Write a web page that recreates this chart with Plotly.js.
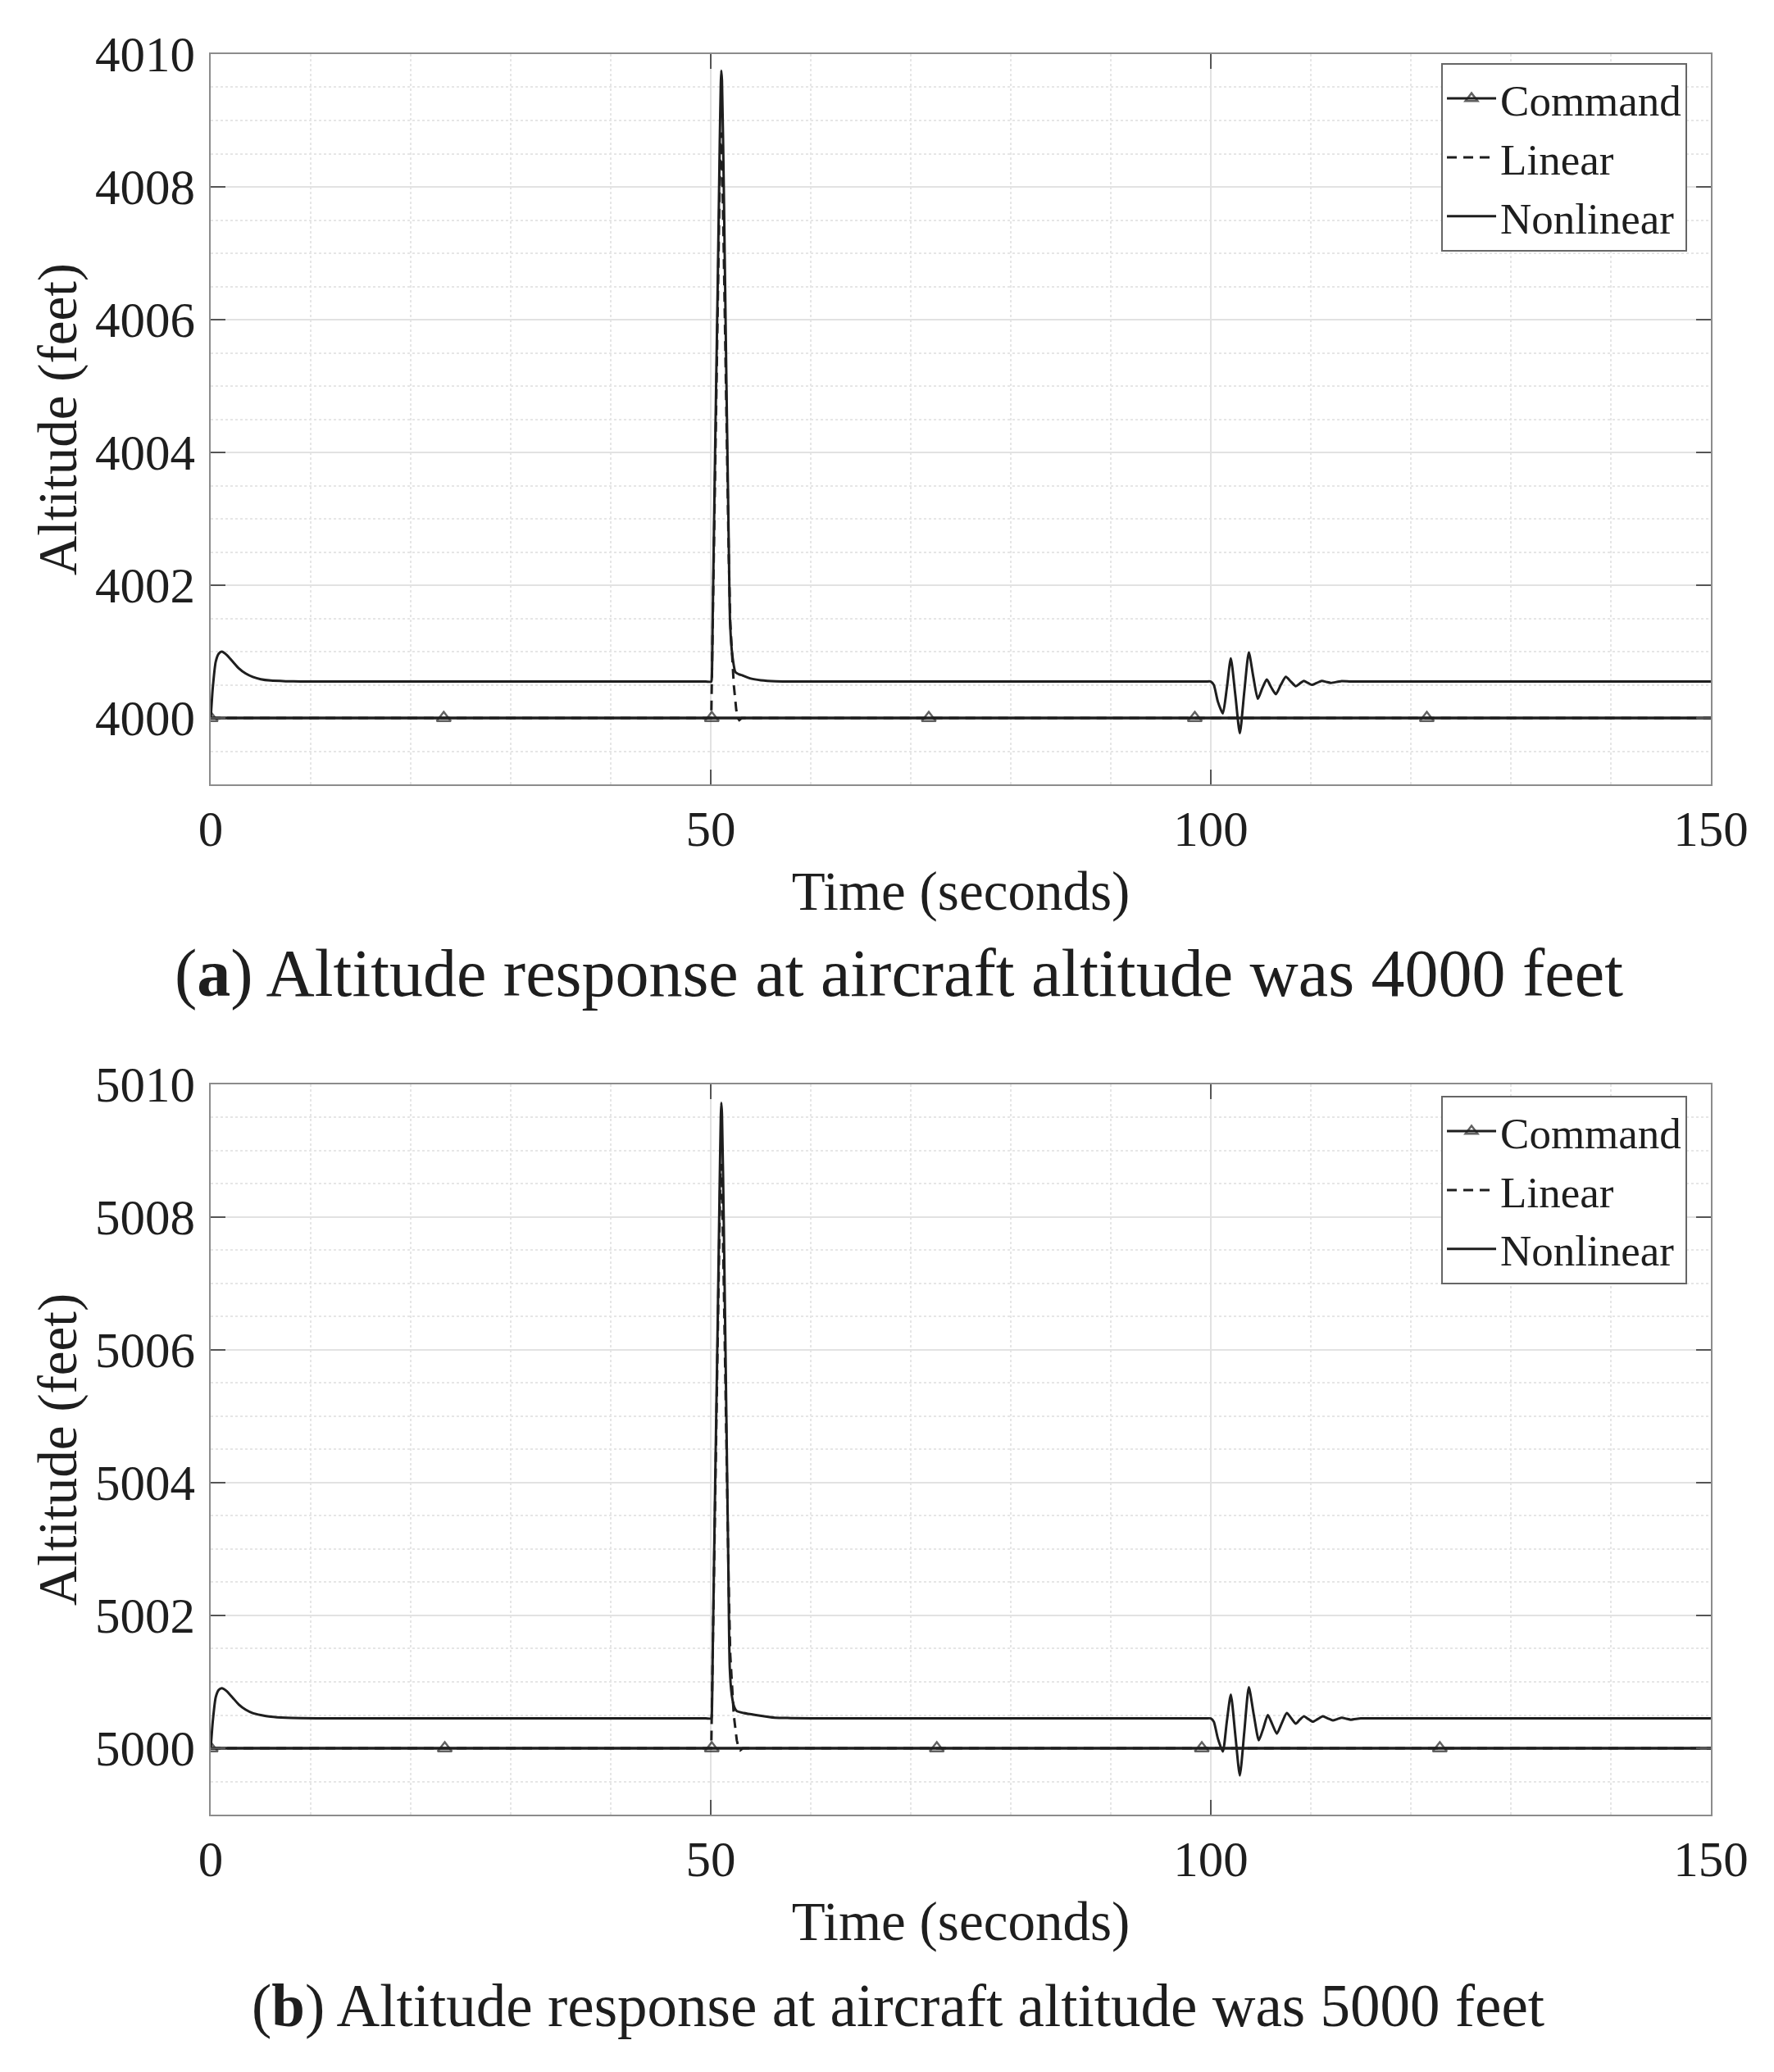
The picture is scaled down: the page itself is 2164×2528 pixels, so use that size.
<!DOCTYPE html>
<html>
<head>
<meta charset="utf-8">
<script src="https://cdn.plot.ly/plotly-3.0.1.min.js"></script>
<style>
  body { margin: 0; background: #fff; }
  #graph { width: 2164px; height: 2528px; }
</style>
</head>
<body>
<div id="graph"></div>
<script>
// command markers (seconds); the last point only closes the line at 150 s
var cmdTimeA = [0, 23.3, 50.1, 71.8, 98.4, 121.6, 150];
var cmdTimeB = [0, 23.4, 50.1, 72.6, 99.1, 122.9, 150];
var cmdMarkSize = [15, 15, 15, 15, 15, 15, 0];
var cmdSpan = [0, 150];

// (a) 4000 ft case, values are feet above 4000
var linTimeA = [0, 50.05, 50.12, 50.3, 50.55, 50.8, 50.95, 51.02, 51.1, 51.3, 51.55, 51.8, 51.95, 52.3, 52.55, 52.7, 52.85, 53.1, 150];
var linAltA  = [0, 0, 0.7, 2.4, 5.0, 7.6, 8.6, 8.82, 8.6, 7.0, 4.6, 2.4, 1.44, 0.5, 0.12, 0, -0.03, 0, 0];

var nlTimeA = [0, 0.2, 0.5, 0.8, 1.1, 1.6, 2.2, 2.8, 3.5, 4.2, 5.0, 6.0, 7.5, 9.0, 12, 20, 30, 40, 48, 49.5,
  50.05, 50.1, 50.2, 50.45, 50.7, 50.9, 51.0, 51.05, 51.12, 51.3, 51.55, 51.8, 51.93, 52.15, 52.47, 52.8, 53.2, 54.0, 55.0, 56.5, 60,
  70, 80, 90, 98, 99.5,
  100.0, 100.3, 100.7, 101.2, 101.6, 102.0, 102.45, 102.9, 103.35, 103.8, 104.25, 104.7, 105.15, 105.6, 106.05, 106.5,
  107.0, 107.5, 108.0, 108.5, 108.9, 109.3, 109.7, 110.1, 110.6, 111.1, 111.55, 112.0, 113, 114, 116, 120, 130, 140, 148, 150];
var nlAltA = [0, 0.45, 0.85, 0.97, 1.0, 0.95, 0.85, 0.75, 0.67, 0.62, 0.585, 0.565, 0.555, 0.55, 0.55, 0.55, 0.55, 0.55, 0.55, 0.55,
  0.55, 0.6, 1.6, 4.2, 6.6, 8.7, 9.55, 9.75, 9.6, 8.0, 5.2, 2.6, 1.44, 0.95, 0.69, 0.66, 0.64, 0.595, 0.57, 0.555, 0.55,
  0.55, 0.55, 0.55, 0.55, 0.55,
  0.55, 0.5, 0.25, 0.07, 0.45, 0.9, 0.35, -0.23, 0.4, 0.99, 0.62, 0.29, 0.45, 0.58, 0.46, 0.36,
  0.5, 0.62, 0.55, 0.48, 0.52, 0.56, 0.53, 0.5, 0.53, 0.56, 0.545, 0.53, 0.555, 0.55, 0.55, 0.55, 0.55, 0.55, 0.55, 0.55];

// (b) 5000 ft case, values are feet above 5000
var linTimeB = [0, 50.05, 50.12, 50.3, 50.55, 50.8, 50.95, 51.02, 51.1, 51.3, 51.55, 51.8, 51.95, 52.3, 52.6, 52.8, 52.95, 53.2, 150];
var linAltB  = [0, 0, 0.7, 2.4, 5.0, 7.6, 8.6, 8.8, 8.6, 7.0, 4.6, 2.4, 1.4, 0.5, 0.12, 0, -0.03, 0, 0];

var nlTimeB = [0, 0.2, 0.5, 0.8, 1.1, 1.6, 2.2, 2.8, 3.5, 4.2, 5.0, 6.0, 7.5, 9.0, 12, 20, 30, 40, 48, 49.5,
  50.05, 50.1, 50.2, 50.45, 50.7, 50.9, 51.0, 51.05, 51.12, 51.3, 51.55, 51.75, 51.9, 52.1, 52.35, 52.6, 53.3, 54.5, 56.4, 58, 62,
  70, 80, 90, 98, 99.5,
  100.0, 100.3, 100.7, 101.2, 101.6, 102.0, 102.45, 102.9, 103.35, 103.8, 104.3, 104.8, 105.25, 105.7, 106.15, 106.6,
  107.1, 107.6, 108.05, 108.5, 108.9, 109.3, 109.75, 110.2, 110.7, 111.2, 111.7, 112.2, 112.65, 113.1, 113.55, 114.0, 115,
  117, 120, 130, 140, 148, 150];
var nlAltB = [0, 0.4, 0.77, 0.88, 0.905, 0.86, 0.76, 0.66, 0.58, 0.53, 0.5, 0.475, 0.46, 0.455, 0.45, 0.45, 0.45, 0.45, 0.45, 0.45,
  0.45, 0.5, 1.5, 4.1, 6.5, 8.6, 9.5, 9.72, 9.55, 7.9, 5.1, 2.8, 1.2, 0.8, 0.62, 0.56, 0.53, 0.5, 0.46, 0.455, 0.45,
  0.45, 0.45, 0.45, 0.45, 0.45,
  0.45, 0.4, 0.15, -0.05, 0.4, 0.81, 0.2, -0.41, 0.25, 0.92, 0.5, 0.12, 0.3, 0.5, 0.36, 0.22,
  0.38, 0.53, 0.45, 0.37, 0.43, 0.48, 0.44, 0.4, 0.44, 0.48, 0.45, 0.42, 0.44, 0.46, 0.445, 0.43, 0.45,
  0.45, 0.45, 0.45, 0.45, 0.45, 0.45];

var serif = "'Liberation Serif', 'Times New Roman', serif";
var ink = '#1e1e1e';

function shift(arr, base) {
  return arr.map(function (v) { return base + v; });
}
function flat(arr, base) {
  return arr.map(function () { return base; });
}

// linear drawn first so the command line sits over its flat part
function panelTraces(base, cmdTime, linTime, linAlt, nlTime, nlAlt, xa, ya, leg) {
  return [
    {x: linTime, y: shift(linAlt, base), xaxis: xa, yaxis: ya, mode: 'lines', name: 'Linear',
     legend: leg, legendrank: 2, line: {color: ink, width: 3, dash: '12px,8px'}},
    {x: cmdSpan, y: flat(cmdSpan, base), xaxis: xa, yaxis: ya, mode: 'lines',
     line: {color: ink, width: 3}, showlegend: false, hoverinfo: 'skip'},
    {x: cmdTime, y: flat(cmdTime, base), xaxis: xa, yaxis: ya, mode: 'lines+markers', name: 'Command',
     legend: leg, legendrank: 1, line: {color: ink, width: 3},
     marker: {symbol: 'triangle-up-open', size: cmdMarkSize, color: ink, line: {width: 2.5, color: ink}}},
    {x: nlTime, y: shift(nlAlt, base), xaxis: xa, yaxis: ya, mode: 'lines', name: 'Nonlinear',
     legend: leg, legendrank: 3, line: {color: ink, width: 3, shape: 'spline', smoothing: 0.6}}
  ];
}

var data = [].concat(
  panelTraces(4000, cmdTimeA, linTimeA, linAltA, nlTimeA, nlAltA, 'x', 'y', 'legend'),
  panelTraces(5000, cmdTimeB, linTimeB, linAltB, nlTimeB, nlAltB, 'x2', 'y2', 'legend2')
);

function xAxis(dom, anchor) {
  return {
    domain: dom, anchor: anchor, range: [0, 150], dtick: 50, tick0: 0,
    showline: true, linecolor: '#8c8c8c', linewidth: 2, mirror: 'ticks',
    ticks: 'inside', ticklen: 18, tickwidth: 2, tickcolor: '#555',
    showgrid: true, gridcolor: '#e2e2e2', gridwidth: 2, zeroline: false,
    minor: {dtick: 10, showgrid: true, gridcolor: '#e6e6e6', gridwidth: 2, griddash: 'dot'},
    tickfont: {family: serif, size: 61, color: ink}, ticklabelstandoff: 0,
    title: {text: 'Time (seconds)', font: {family: serif, size: 67, color: ink}, standoff: 19}
  };
}
function yAxis(dom, anchor, lo) {
  return {
    domain: dom, anchor: anchor, range: [lo - 1, lo + 10], dtick: 2, tick0: lo,
    showline: true, linecolor: '#8c8c8c', linewidth: 2, mirror: 'ticks',
    ticks: 'inside', ticklen: 18, tickwidth: 2, tickcolor: '#555',
    showgrid: true, gridcolor: '#e2e2e2', gridwidth: 2, zeroline: false,
    minor: {dtick: 0.5, showgrid: true, gridcolor: '#e6e6e6', gridwidth: 2, griddash: 'dot'},
    tickfont: {family: serif, size: 61, color: ink}, ticklabelstandoff: 5,
    title: {text: 'Altitude (feet)', font: {family: serif, size: 67, color: ink}, standoff: 0}
  };
}
function legendBox(top) {
  return {
    x: 0.8124, y: top, xanchor: 'left', yanchor: 'top',
    bgcolor: '#ffffff', bordercolor: '#666', borderwidth: 2,
    font: {family: serif, size: 53, color: ink}, itemwidth: 60, tracegroupgap: 0
  };
}

var layout = {
  width: 2164, height: 2528,
  margin: {l: 0, r: 0, t: 0, b: 0},
  paper_bgcolor: '#ffffff', plot_bgcolor: '#ffffff',
  xaxis: xAxis([0.1188, 0.9644], 'y'),
  yaxis: yAxis([0.6214, 0.9739], 'x', 4000),
  xaxis2: xAxis([0.1188, 0.9644], 'y2'),
  yaxis2: yAxis([0.1242, 0.4767], 'x2', 5000),
  legend: legendBox(0.9695),
  legend2: legendBox(0.4711),
  annotations: [
    {text: '(<b>a</b>) Altitude response at aircraft altitude was 4000 feet', xref: 'paper', yref: 'paper',
     x: 1096 / 2164, y: 1 - 1187 / 2528, xanchor: 'center', yanchor: 'middle', showarrow: false,
     font: {family: serif, size: 82, color: ink}},
    {text: '(<b>b</b>) Altitude response at aircraft altitude was 5000 feet', xref: 'paper', yref: 'paper',
     x: 1095 / 2164, y: 1 - 2447 / 2528, xanchor: 'center', yanchor: 'middle', showarrow: false,
     font: {family: serif, size: 73, color: ink}}
  ]
};

Plotly.newPlot('graph', data, layout, {staticPlot: true});
</script>
</body>
</html>
